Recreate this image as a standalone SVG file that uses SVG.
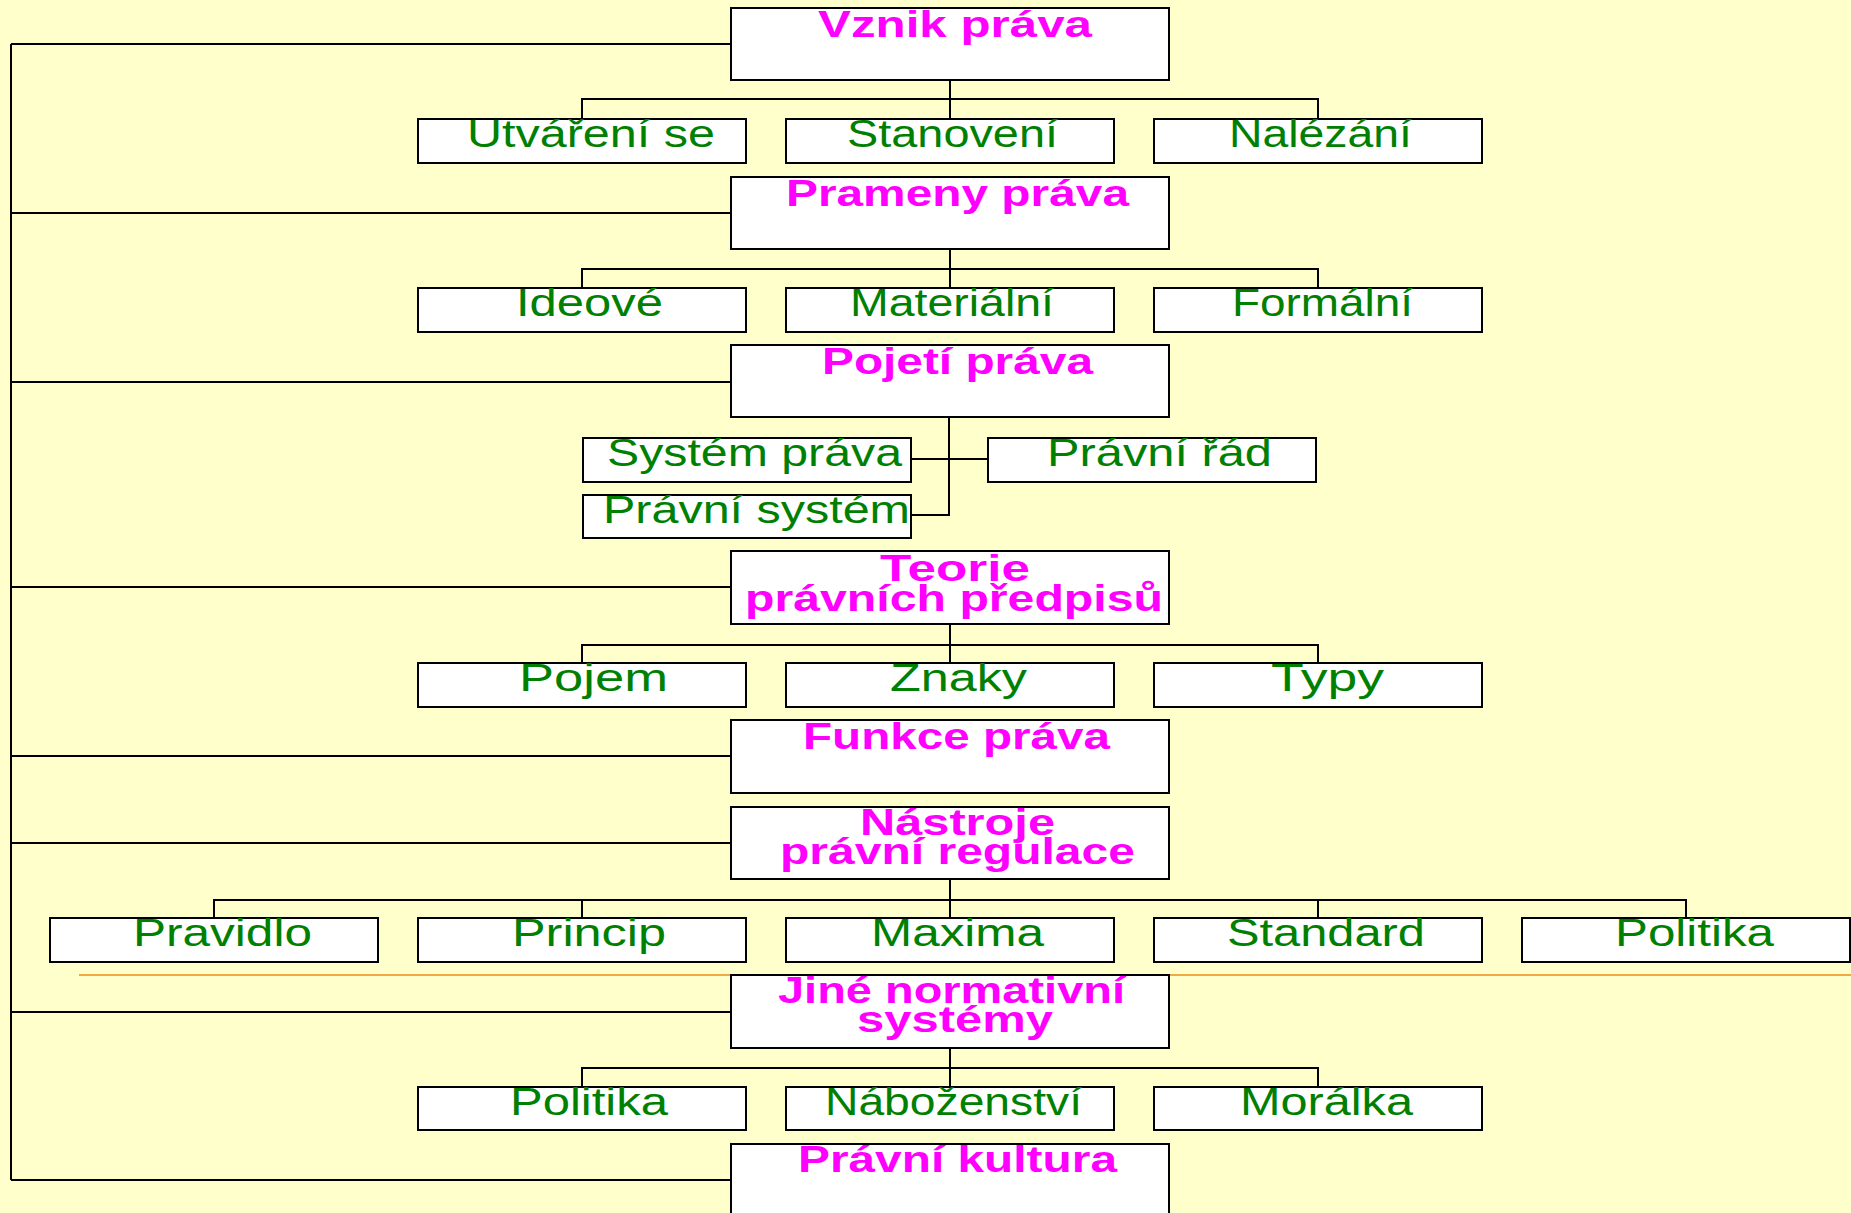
<svg xmlns="http://www.w3.org/2000/svg" width="1851" height="1213" viewBox="0 0 1851 1213">
<style>
.bx{fill:#ffffff;stroke:#000000;stroke-width:2}
.ln{fill:none;stroke:#000000;stroke-width:2}
.t{font-family:"Liberation Sans",Arial,sans-serif;font-weight:bold;font-size:37px;fill:#ff00ff}
.g{font-family:"Liberation Sans",Arial,sans-serif;font-size:38px;fill:#008000}
</style>
<rect x="0" y="0" width="1851" height="1213" fill="#ffffcc"/>
<line x1="79" y1="975" x2="1851" y2="975" stroke="#f0a844" stroke-width="2"/>
<g id="connectors" class="ln">
<path d="M11 44 V1180 M11 44 H731 M11 213 H731 M11 382 H731 M11 587 H731 M11 756 H731 M11 843 H731 M11 1012 H731 M11 1180 H731"/>
<path d="M950 80 V99 M582 119 V99 H1318 V119 M950 99 V119"/>
<path d="M950 249 V269 M582 288 V269 H1318 V288 M950 269 V288"/>
<path d="M949 418 V515 H911 M911 459 H988"/>
<path d="M950 624 V645 M582 663 V645 H1318 V663 M950 645 V663"/>
<path d="M950 879 V900 M214 918 V900 H1686 V918 M582 900 V918 M950 900 V918 M1318 900 V918"/>
<path d="M950 1048 V1068 M582 1087 V1068 H1318 V1087 M950 1068 V1087"/>
</g>
<g id="vznik"><rect class="bx" x="731" y="8" width="438" height="72"/><text class="t" x="818" y="37" textLength="274" lengthAdjust="spacingAndGlyphs">Vznik práva</text></g>
<g id="utvareni"><rect class="bx" x="418" y="119" width="328" height="44"/><text class="g" x="467" y="147" textLength="248" lengthAdjust="spacingAndGlyphs">Utváření se</text></g>
<g id="stanoveni"><rect class="bx" x="786" y="119" width="328" height="44"/><text class="g" x="847" y="147" textLength="211" lengthAdjust="spacingAndGlyphs">Stanovení</text></g>
<g id="nalezani"><rect class="bx" x="1154" y="119" width="328" height="44"/><text class="g" x="1229" y="147" textLength="183" lengthAdjust="spacingAndGlyphs">Nalézání</text></g>
<g id="prameny"><rect class="bx" x="731" y="177" width="438" height="72"/><text class="t" x="786" y="206" textLength="343" lengthAdjust="spacingAndGlyphs">Prameny práva</text></g>
<g id="ideove"><rect class="bx" x="418" y="288" width="328" height="44"/><text class="g" x="516" y="316" textLength="147" lengthAdjust="spacingAndGlyphs">Ideové</text></g>
<g id="materialni"><rect class="bx" x="786" y="288" width="328" height="44"/><text class="g" x="850" y="316" textLength="204" lengthAdjust="spacingAndGlyphs">Materiální</text></g>
<g id="formalni"><rect class="bx" x="1154" y="288" width="328" height="44"/><text class="g" x="1232" y="316" textLength="181" lengthAdjust="spacingAndGlyphs">Formální</text></g>
<g id="pojeti"><rect class="bx" x="731" y="345" width="438" height="72"/><text class="t" x="822" y="374" textLength="271" lengthAdjust="spacingAndGlyphs">Pojetí práva</text></g>
<g id="system-prava"><rect class="bx" x="583" y="438" width="328" height="44"/><text class="g" x="607" y="466" textLength="295" lengthAdjust="spacingAndGlyphs">Systém práva</text></g>
<g id="pravni-rad"><rect class="bx" x="988" y="438" width="328" height="44"/><text class="g" x="1047" y="466" textLength="225" lengthAdjust="spacingAndGlyphs">Právní řád</text></g>
<g id="pravni-system"><rect class="bx" x="583" y="495" width="328" height="43"/><text class="g" x="603" y="523" textLength="307" lengthAdjust="spacingAndGlyphs">Právní systém</text></g>
<g id="teorie"><rect class="bx" x="731" y="551" width="438" height="73"/><text class="t" x="880" y="581" textLength="150" lengthAdjust="spacingAndGlyphs">Teorie</text><text class="t" x="745" y="611" textLength="418" lengthAdjust="spacingAndGlyphs">právních předpisů</text></g>
<g id="pojem"><rect class="bx" x="418" y="663" width="328" height="44"/><text class="g" x="519" y="691" textLength="149" lengthAdjust="spacingAndGlyphs">Pojem</text></g>
<g id="znaky"><rect class="bx" x="786" y="663" width="328" height="44"/><text class="g" x="890" y="691" textLength="137" lengthAdjust="spacingAndGlyphs">Znaky</text></g>
<g id="typy"><rect class="bx" x="1154" y="663" width="328" height="44"/><text class="g" x="1271" y="691" textLength="113" lengthAdjust="spacingAndGlyphs">Typy</text></g>
<g id="funkce"><rect class="bx" x="731" y="720" width="438" height="73"/><text class="t" x="803" y="749" textLength="307" lengthAdjust="spacingAndGlyphs">Funkce práva</text></g>
<g id="nastroje"><rect class="bx" x="731" y="807" width="438" height="72"/><text class="t" x="860" y="835" textLength="195" lengthAdjust="spacingAndGlyphs">Nástroje</text><text class="t" x="780" y="864" textLength="355" lengthAdjust="spacingAndGlyphs">právní regulace</text></g>
<g id="pravidlo"><rect class="bx" x="50" y="918" width="328" height="44"/><text class="g" x="133" y="946" textLength="179" lengthAdjust="spacingAndGlyphs">Pravidlo</text></g>
<g id="princip"><rect class="bx" x="418" y="918" width="328" height="44"/><text class="g" x="512" y="946" textLength="154" lengthAdjust="spacingAndGlyphs">Princip</text></g>
<g id="maxima"><rect class="bx" x="786" y="918" width="328" height="44"/><text class="g" x="871" y="946" textLength="173" lengthAdjust="spacingAndGlyphs">Maxima</text></g>
<g id="standard"><rect class="bx" x="1154" y="918" width="328" height="44"/><text class="g" x="1227" y="946" textLength="198" lengthAdjust="spacingAndGlyphs">Standard</text></g>
<g id="politika1"><rect class="bx" x="1522" y="918" width="328" height="44"/><text class="g" x="1615" y="946" textLength="159" lengthAdjust="spacingAndGlyphs">Politika</text></g>
<g id="jine"><rect class="bx" x="731" y="975" width="438" height="73"/><text class="t" x="778" y="1003" textLength="347" lengthAdjust="spacingAndGlyphs">Jiné normativní</text><text class="t" x="857" y="1032" textLength="196" lengthAdjust="spacingAndGlyphs">systémy</text></g>
<g id="politika2"><rect class="bx" x="418" y="1087" width="328" height="43"/><text class="g" x="510" y="1115" textLength="158" lengthAdjust="spacingAndGlyphs">Politika</text></g>
<g id="nabozenstvi"><rect class="bx" x="786" y="1087" width="328" height="43"/><text class="g" x="825" y="1115" textLength="257" lengthAdjust="spacingAndGlyphs">Náboženství</text></g>
<g id="moralka"><rect class="bx" x="1154" y="1087" width="328" height="43"/><text class="g" x="1240" y="1115" textLength="173" lengthAdjust="spacingAndGlyphs">Morálka</text></g>
<g id="kultura"><rect class="bx" x="731" y="1144" width="438" height="80"/><text class="t" x="798" y="1172" textLength="319" lengthAdjust="spacingAndGlyphs">Právní kultura</text></g>
</svg>
